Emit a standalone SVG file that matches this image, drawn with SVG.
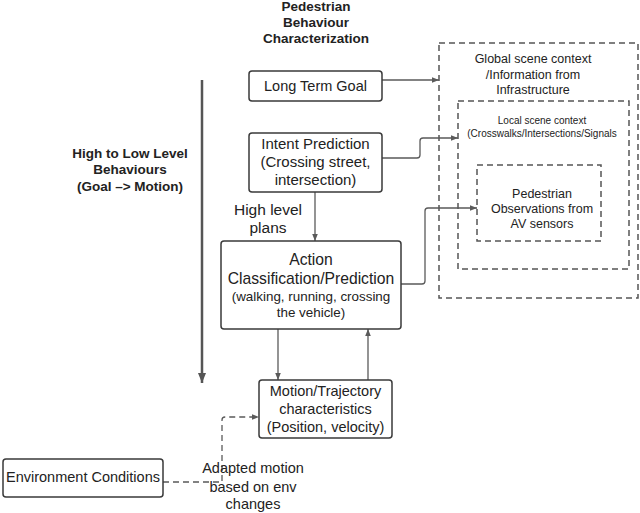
<svg xmlns="http://www.w3.org/2000/svg" width="640" height="513" viewBox="0 0 640 513">
<defs>
<style>
text{font-family:"Liberation Sans",Arial,sans-serif;fill:#222;text-anchor:middle}
.b{font-weight:bold}
.box{fill:#fff;stroke:#3a3a3a;stroke-width:1.5}
.dbox{fill:none;stroke:#555;stroke-width:1.5;stroke-dasharray:6,4}
.con{fill:none;stroke:#5a5a5a;stroke-width:1.3}
.dash{stroke-dasharray:6,4}
</style>
<marker id="ah" viewBox="0 0 10 10" refX="10" refY="5" markerWidth="7" markerHeight="7" orient="auto" markerUnits="userSpaceOnUse">
<path d="M0,1 L10,5 L0,9 Z" fill="#5a5a5a"/>
</marker>
<marker id="ahb" viewBox="0 0 10 10" refX="10" refY="5" markerWidth="10" markerHeight="10" orient="auto" markerUnits="userSpaceOnUse">
<path d="M0,1 L10,5 L0,9 Z" fill="#555"/>
</marker>
</defs>
<rect width="640" height="513" fill="#fff"/>

<g id="title">
<text class="b" x="316" y="11" font-size="13.5">Pedestrian</text>
<text class="b" x="316" y="27" font-size="13.5">Behaviour</text>
<text class="b" x="316" y="43" font-size="13.5">Characterization</text>
</g>

<g id="global-context">
<rect class="dbox" x="439" y="43" width="199" height="255"/>
<text x="533" y="63" font-size="12.5">Global scene context</text>
<text x="533" y="79" font-size="12.5">/Information from</text>
<text x="533" y="94" font-size="12.5">Infrastructure</text>
</g>
<g id="local-context">
<rect class="dbox" x="458" y="101" width="171" height="168"/>
<text x="542" y="124" font-size="10">Local scene context</text>
<text x="542" y="136.5" font-size="10">(Crosswalks/Intersections/Signals</text>
</g>
<g id="pedestrian-observations">
<rect class="dbox" x="477" y="165" width="124" height="76"/>
<text x="542" y="197.5" font-size="12.5">Pedestrian</text>
<text x="542" y="212.5" font-size="12.5">Observations from</text>
<text x="542" y="227.5" font-size="12.5">AV sensors</text>
</g>

<g id="connectors">
<path class="con" d="M382,80 H439" marker-end="url(#ah)"/>
<path class="con" d="M382,158 H417 Q420,158 420,155 V141 Q420,138 423,138 H458" marker-end="url(#ah)"/>
<path class="con" d="M401,284 H422 Q425,284 425,281 V211 Q425,208 428,208 H477" marker-end="url(#ah)"/>
<path class="con" d="M315,192 V241" marker-end="url(#ah)"/>
<path class="con" d="M278,329 V380" marker-end="url(#ah)"/>
<path class="con" d="M368,380 V329" marker-end="url(#ah)"/>
<path class="con dash" d="M163,482 H222 V420 Q222,417 225,417 H259" marker-end="url(#ah)"/>
<path fill="none" stroke="#555" stroke-width="2.5" d="M202,80 V383" marker-end="url(#ahb)"/>
</g>

<g id="axis-label">
<text class="b" x="130" y="158" font-size="13.5">High to Low Level</text>
<text class="b" x="130" y="174" font-size="13.5">Behaviours</text>
<text class="b" x="130" y="191" font-size="13.5">(Goal –&gt; Motion)</text>
</g>

<g id="long-term-goal">
<rect class="box" x="249" y="71" width="133" height="30" rx="3"/>
<text x="315.5" y="91" font-size="14.5">Long Term Goal</text>
</g>

<g id="intent-prediction">
<rect class="box" x="249" y="133" width="133" height="59" rx="3"/>
<text x="315.5" y="149" font-size="15">Intent Prediction</text>
<text x="315.5" y="167" font-size="15">(Crossing street,</text>
<text x="315.5" y="185" font-size="15">intersection)</text>
</g>

<g id="high-level-plans">
<text x="268" y="215" font-size="15.5">High level</text>
<text x="268" y="233" font-size="15.5">plans</text>
</g>

<g id="action">
<rect class="box" x="221" y="241" width="180" height="88" rx="3"/>
<text x="311" y="264.5" font-size="15.7">Action</text>
<text x="311" y="283.5" font-size="15.7">Classification/Prediction</text>
<text x="311" y="300.5" font-size="13.4">(walking, running, crossing</text>
<text x="311" y="316.5" font-size="13.4">the vehicle)</text>
</g>

<g id="motion">
<rect class="box" x="259" y="380" width="133" height="58" rx="3"/>
<text x="325.5" y="396" font-size="14.5">Motion/Trajectory</text>
<text x="325.5" y="414" font-size="14.5">characteristics</text>
<text x="325.5" y="432" font-size="14.5">(Position, velocity)</text>
</g>

<g id="environment">
<rect class="box" x="3" y="459" width="160" height="38" rx="3"/>
<text x="83" y="482" font-size="14.5">Environment Conditions</text>
</g>

<g id="adapted-label">
<text x="253" y="473" font-size="14.5">Adapted motion</text>
<text x="253" y="492" font-size="14.5">based on env</text>
<text x="253" y="509" font-size="14.5">changes</text>
</g>
</svg>
